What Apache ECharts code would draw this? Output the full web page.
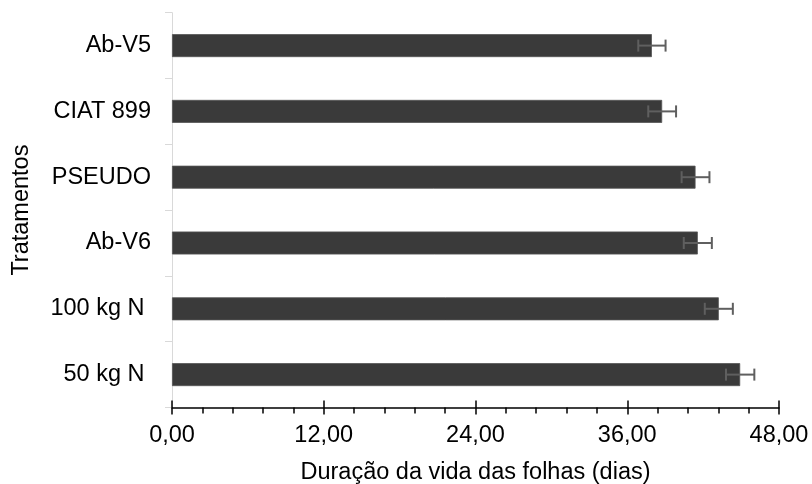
<!DOCTYPE html>
<html>
<head>
<meta charset="utf-8">
<script src="https://cdn.jsdelivr.net/npm/echarts@6/dist/echarts.min.js"></script>
<style>html,body{margin:0;padding:0;background:#fff}#c{width:812px;height:484px}</style>
</head>
<body>
<div id="c"></div>
<script>
// Categories listed top to bottom
var categories = ['Ab-V5', 'CIAT 899', 'PSEUDO', 'Ab-V6', '100 kg N\u00a0', '50 kg N\u00a0'];
var values = [37.95, 38.76, 41.40, 41.58, 43.24, 44.93];
var errors = [1.08, 1.10, 1.10, 1.11, 1.11, 1.12];
var xTicks = [0, 12, 24, 36, 48];
var xTitle = 'Duração da vida das folhas (dias)';
var yTitle = 'Tratamentos';

var FONT = "'Liberation Sans', Arial, sans-serif";
var chart = echarts.init(document.getElementById('c'), null, {renderer: 'canvas'});

var errData = categories.map(function (c, i) { return [values[i] - errors[i], values[i] + errors[i], i]; });

chart.setOption({
  animation: false,
  backgroundColor: '#fff',
  grid: {left: 172, right: 33, top: 12.7, bottom: 76.5, containLabel: false, outerBoundsMode: 'none'},
  xAxis: [{
    type: 'value',
    min: xTicks[0], max: xTicks[xTicks.length - 1], interval: 12,
    name: xTitle, nameLocation: 'middle', nameGap: 53,
    nameTextStyle: {fontFamily: FONT, fontSize: 23.5, color: '#000'},
    axisLine: {show: true, lineStyle: {color: '#000', width: 1.5}},
    axisTick: {show: true, length: 7, lineStyle: {color: '#000', width: 1.5}},
    minorTick: {show: true, splitNumber: 5, length: 6, lineStyle: {color: '#000', width: 1.5}},
    splitLine: {show: false},
    axisLabel: {margin: 16, fontFamily: FONT, fontSize: 23.5, color: '#000',
      formatter: function (v) { return v.toFixed(2).replace('.', ','); }}
  }, {
    type: 'value', position: 'bottom',
    min: xTicks[0], max: xTicks[xTicks.length - 1], interval: 12,
    axisLine: {show: false},
    axisTick: {show: true, inside: true, length: 7, lineStyle: {color: '#000', width: 1.5}},
    axisLabel: {show: false},
    splitLine: {show: false}
  }],
  yAxis: {
    type: 'category', data: categories, inverse: true,
    name: yTitle, nameLocation: 'middle', nameGap: 138, nameRotate: 90,
    nameTextStyle: {fontFamily: FONT, fontSize: 23.5, color: '#000'},
    axisLine: {show: true, lineStyle: {color: '#d9d9d9', width: 1}},
    axisTick: {show: true, length: 7, lineStyle: {color: '#d9d9d9', width: 1}},
    axisLabel: {margin: 21, fontFamily: FONT, fontSize: 23.5, color: '#000'}
  },
  series: [{
    type: 'bar', xAxisIndex: 0, data: values, barWidth: 23,
    itemStyle: {color: '#3a3a3a', borderColor: '#555', borderWidth: 0.8}
  }, {
    type: 'custom', xAxisIndex: 0, data: errData, z: 5,
    renderItem: function (params, api) {
      var lo = api.coord([api.value(0), api.value(2)]);
      var hi = api.coord([api.value(1), api.value(2)]);
      var h = 6;
      var st = {stroke: '#5f5f5f', lineWidth: 2};
      return {type: 'group', children: [
        {type: 'line', shape: {x1: lo[0], y1: lo[1], x2: hi[0], y2: hi[1]}, style: st},
        {type: 'line', shape: {x1: lo[0], y1: lo[1] - h, x2: lo[0], y2: lo[1] + h}, style: st},
        {type: 'line', shape: {x1: hi[0], y1: hi[1] - h, x2: hi[0], y2: hi[1] + h}, style: st}
      ]};
    }
  }]
});
</script>
</body>
</html>
